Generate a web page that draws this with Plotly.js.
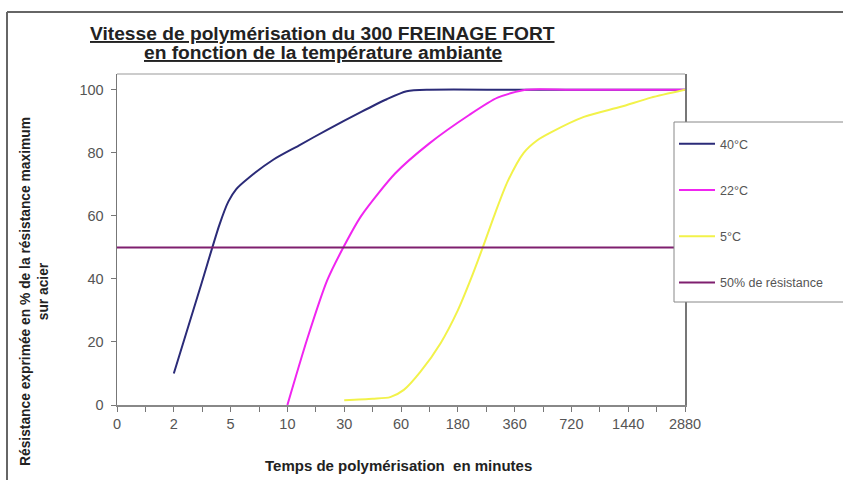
<!DOCTYPE html>
<html><head><meta charset="utf-8">
<script src="https://cdn.plot.ly/plotly-3.0.1.min.js"></script>
<style>html,body{margin:0;padding:0;background:#fff}#chart{width:843px;height:480px}</style>
</head><body><div id="chart"></div>
<script>
// Category scale: tick labels (minutes), placed at equal steps 0..10
const tickLabels = ['0','2','5','10','30','60','180','360','720','1440','2880'];
const yTicks = [0,20,40,60,80,100];
const seriesNames = ['40°C','22°C','5°C','50% de résistance'];
const titleLines = ['Vitesse de polymérisation du 300 FREINAGE FORT','en fonction de la température ambiante'];
const xTitle = 'Temps de polymérisation  en minutes';
const yTitle = 'Résistance exprimée en % de la résistance maximum<br>sur acier';

// x values are positions on the category scale (0 = "0" ... 10 = "2880")
const x40 = [1.00,1.47,1.80,1.96,2.10,2.30,2.75,3.20,3.70,4.30,4.75,5.10,5.50,7.00,10.00];
const y40 = [10,37.5,57,64.5,68.5,71.8,77.8,82.3,87.3,93,97,99.5,100,100,100];

const x22 = [3.00,3.35,3.70,4.00,4.30,4.90,5.50,6.20,6.70,7.20,8.00,10.00];
const y22 = [0,21,39.5,50.5,60,73.5,83,92,97.5,100,100,100];

const x5 = [4.00,4.50,4.81,5.05,5.34,5.70,6.00,6.22,6.44,6.65,6.88,7.16,7.40,7.64,8.22,8.87,9.40,10.00];
const y5 = [1.5,2,2.5,4.8,10.5,19.7,30,39.5,50,60.5,71,80,84,86.5,91.4,94.6,97.5,100];

const x50 = [0,10];
const y50 = [50,50];

const colors = ['#2b2b78','#f025f0','#f2f24a','#7f1f6f'];

function mk(x,y,i,shape){
  return {x:x,y:y,name:seriesNames[i],type:'scatter',mode:'lines',
    line:{color:colors[i],width:2,shape:shape,smoothing:0.7},
    legendgroup:'g'+i,hoverinfo:'skip'};
}
const data = [mk(x40,y40,0,'spline'),mk(x22,y22,1,'spline'),mk(x5,y5,2,'spline'),mk(x50,y50,3,'linear')];

const L=117,R=685,T=74,B=405;
function px(v){return (v-L)/(R-L);}
function py(v){return (B-v)/(B-T);}

const layout = {
  width:843,height:480,
  margin:{l:L,r:843-R,t:T,b:480-B},
  paper_bgcolor:'#fff',plot_bgcolor:'#fff',
  font:{family:'Liberation Sans, Arial, sans-serif',color:'#444',size:13},
  xaxis:{range:[0,10],tickmode:'array',tickvals:tickLabels.map((_,i)=>i),ticktext:tickLabels,
    ticks:'outside',ticklen:5,tickcolor:'#777',tickwidth:1,
    minor:{ticks:'outside',ticklen:5,tickcolor:'#777',dtick:0.5,tick0:0},
    showline:true,linecolor:'#888',linewidth:1.5,showgrid:false,zeroline:false,fixedrange:true,
    tickfont:{size:14.5,color:'#555'}},
  yaxis:{range:[0,105],tickmode:'array',tickvals:yTicks,
    ticks:'outside',ticklen:5,tickcolor:'#777',ticklabelstandoff:4,
    showline:true,mirror:true,linecolor:'#777',linewidth:1.5,showgrid:false,zeroline:false,fixedrange:true,
    tickfont:{size:14.5,color:'#555'}},
  showlegend:true,
  legend:{x:px(674),xanchor:'left',y:py(129),yanchor:'top',bgcolor:'rgba(0,0,0,0)',borderwidth:0,
    traceorder:'grouped',tracegroupgap:27,itemwidth:36,font:{size:12.5,color:'#555'}},
  annotations:[
    {text:'<b><u>'+titleLines[0]+'</u></b>',xref:'paper',yref:'paper',x:px(322),y:py(33),
      xanchor:'center',yanchor:'middle',showarrow:false,font:{size:19.2,color:'#222'}},
    {text:'<b><u>'+titleLines[1]+'</u></b>',xref:'paper',yref:'paper',x:px(323),y:py(52),
      xanchor:'center',yanchor:'middle',showarrow:false,font:{size:19.2,color:'#222'}},
    {text:'<b>'+xTitle+'</b>',xref:'paper',yref:'paper',x:px(398),y:py(465),
      xanchor:'center',yanchor:'middle',showarrow:false,font:{size:15,color:'#222'}},
    {text:'<b>'+yTitle+'</b>',xref:'paper',yref:'paper',
      x:px(34),y:py(292),xanchor:'center',yanchor:'middle',textangle:-90,showarrow:false,
      font:{size:13.8,color:'#222'}}
  ],
  shapes:[
    {type:'line',xref:'paper',yref:'paper',x0:0,x1:1,y0:1,y1:1,line:{color:'#bbb',width:1.5}},
    {type:'rect',xref:'paper',yref:'paper',layer:'above',x0:px(674),x1:px(850),y0:py(302),y1:py(122),
      fillcolor:'#fff',line:{color:'#888',width:1}},
    {type:'line',xref:'paper',yref:'paper',x0:px(7),x1:px(850),y0:py(12),y1:py(12),line:{color:'#666',width:2}},
    {type:'line',xref:'paper',yref:'paper',x0:px(7),x1:px(7),y0:py(12),y1:py(490),line:{color:'#666',width:2}}
  ]
};
Plotly.newPlot('chart',data,layout,{displayModeBar:false,staticPlot:true});
</script>
</body></html>
